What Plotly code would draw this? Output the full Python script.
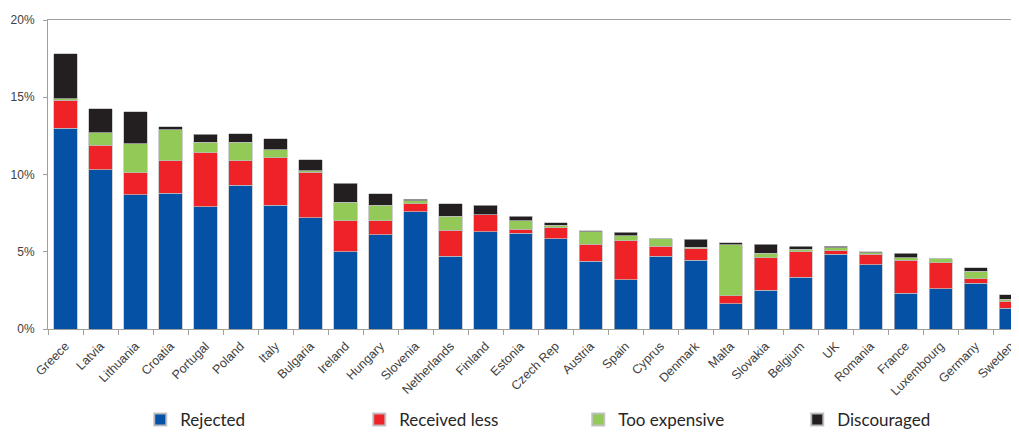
import plotly.graph_objects as go

countries = ["Greece", "Latvia", "Lithuania", "Croatia", "Portugal", "Poland", "Italy",
             "Bulgaria", "Ireland", "Hungary", "Slovenia", "Netherlands", "Finland",
             "Estonia", "Czech Rep", "Austria", "Spain", "Cyprus", "Denmark", "Malta",
             "Slovakia", "Belgium", "UK", "Romania", "France", "Luxembourg", "Germany",
             "Sweden"]

rejected = [13.0, 10.3, 8.7, 8.8, 7.9, 9.3, 8.0, 7.2, 5.0, 6.1, 7.6, 4.7, 6.3, 6.2,
            5.85, 4.4, 3.2, 4.7, 4.45, 1.65, 2.5, 3.35, 4.85, 4.15, 2.3, 2.6, 2.95, 1.35]
received_less = [1.8, 1.6, 1.4, 2.1, 3.5, 1.6, 3.1, 2.95, 2.0, 0.9, 0.5, 1.7, 1.1, 0.25,
                 0.7, 1.1, 2.5, 0.65, 0.75, 0.5, 2.1, 1.65, 0.2, 0.7, 2.15, 1.7, 0.3, 0.45]
too_expensive = [0.1, 0.8, 1.9, 2.0, 0.7, 1.2, 0.5, 0.1, 1.2, 1.0, 0.2, 0.9, 0.0, 0.55,
                 0.15, 0.8, 0.35, 0.5, 0.1, 3.3, 0.3, 0.17, 0.2, 0.1, 0.15, 0.25, 0.5, 0.13]
discouraged = [2.9, 1.55, 2.05, 0.2, 0.5, 0.55, 0.7, 0.7, 1.23, 0.75, 0.1, 0.8, 0.6, 0.3,
               0.17, 0.05, 0.2, 0.0, 0.5, 0.13, 0.6, 0.2, 0.12, 0.05, 0.3, 0.0, 0.2, 0.3]

series = [
    ("Rejected", rejected, "#0451A5"),
    ("Received less", received_less, "#EE2227"),
    ("Too expensive", too_expensive, "#92C957"),
    ("Discouraged", discouraged, "#231F20"),
]

fig = go.Figure()
for name, vals, col in series:
    fig.add_trace(go.Bar(
        x=countries, y=vals, name=name,
        marker=dict(color=col, line=dict(color="rgba(190,190,190,0.9)", width=0.8)),
    ))

font_family = "Liberation Sans, Arial, sans-serif"

# The page body has an 8px default margin, so the figure is sized to fit the
# 1019x432 window from (8, 8).
fig.update_layout(
    barmode="stack",
    bargap=0.34,
    width=1011, height=424,
    margin=dict(l=40, r=0, t=12, b=103, autoexpand=False),
    paper_bgcolor="white", plot_bgcolor="white",
    font=dict(family=font_family, color="#404040"),
    showlegend=True,
    legend=dict(
        orientation="h", x=0.095, xanchor="left", y=-0.236, yanchor="top",
        entrywidth=174, entrywidthmode="pixels",
        font=dict(size=17, color="#262626", family="Lato, Liberation Sans, sans-serif"),
        itemsizing="constant",
        traceorder="normal",
    ),
    xaxis=dict(
        range=[-0.5, 27.24], automargin=False,
        tickangle=-45, tickfont=dict(size=12.5, color="#404040"),
        ticks="outside", tickson="boundaries", ticklen=5, tickcolor="#A0A0A0",
        ticklabelstandoff=4,
        showline=True, linecolor="#A0A0A0", linewidth=1, mirror=True,
        showgrid=False, fixedrange=True,
    ),
    yaxis=dict(
        range=[0, 20], dtick=5, ticksuffix="%", automargin=False,
        tickfont=dict(size=12, color="#404040"),
        ticks="outside", ticklen=4, tickcolor="#A0A0A0", ticklabelstandoff=6,
        showline=True, linecolor="#A0A0A0", linewidth=1,
        showgrid=False, zeroline=False,
    ),
)

fig.write_html("out.html")
